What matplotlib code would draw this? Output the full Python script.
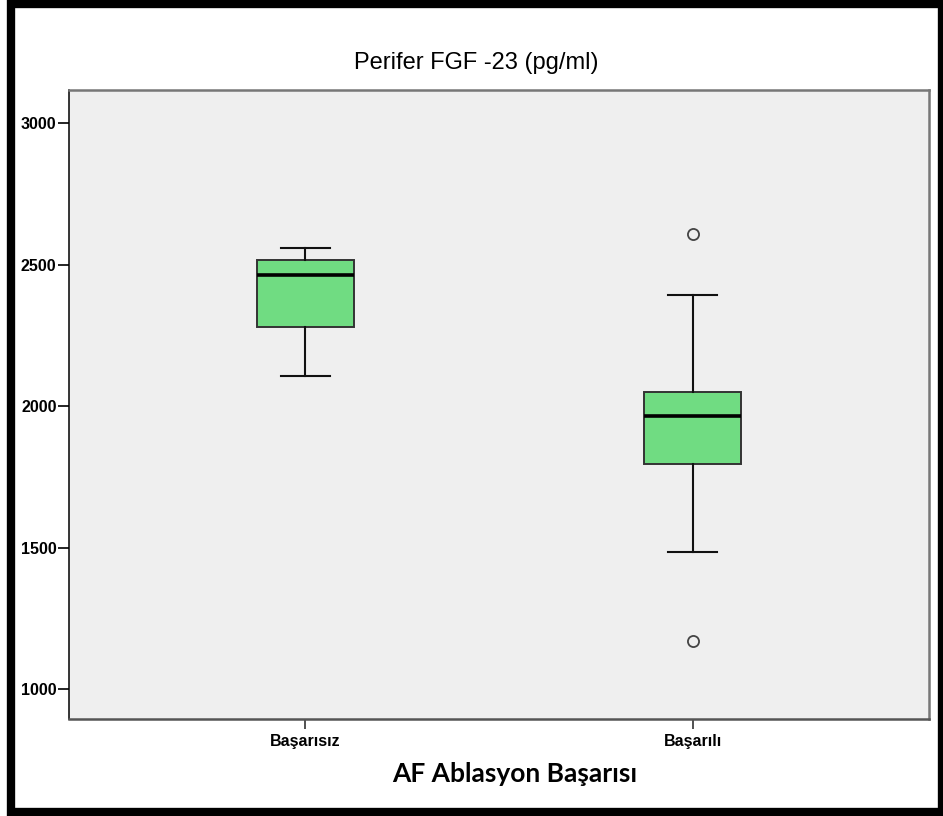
import matplotlib
matplotlib.use("Agg")
import matplotlib.pyplot as plt
from matplotlib.patches import Rectangle

# ---------------------------------------------------------------------------
# Box plot summary values (pg/ml)
# ---------------------------------------------------------------------------
groups = ["Başarısız", "Başarılı"]
whisker_low = [2107, 1483]
q1 = [2278, 1794]
median = [2462, 1966]
q3 = [2516, 2048]
whisker_high = [2557, 2392]
outliers = [[], [2609, 1171]]

y_ticks = [1000, 1500, 2000, 2500, 3000]

title = "Perifer FGF -23 (pg/ml)"
x_label = "AF Ablasyon Başarısı"

BOX_GREEN = "#70dc82"
PANEL_GRAY = "#efefef"
TICK_FONT = ["Liberation Sans", "DejaVu Sans"]

stats = []
for i, name in enumerate(groups):
    stats.append({
        "label": name,
        "whislo": whisker_low[i],
        "q1": q1[i],
        "med": median[i],
        "q3": q3[i],
        "whishi": whisker_high[i],
        "fliers": outliers[i],
    })

fig = plt.figure(figsize=(9.43, 8.16), dpi=100)
fig.patch.set_facecolor("white")
ax = fig.add_axes([69 / 943, 1 - 719 / 816, 860 / 943, 629 / 816])
ax.set_facecolor(PANEL_GRAY)

ax.bxp(
    stats,
    positions=[1, 2],
    widths=0.25,
    patch_artist=True,
    boxprops=dict(facecolor=BOX_GREEN, edgecolor="#333333", linewidth=1.4),
    medianprops=dict(color="black", linewidth=2.6),
    whiskerprops=dict(color="#111111", linewidth=1.5),
    capprops=dict(color="#111111", linewidth=1.5),
    flierprops=dict(marker="o", markersize=8, markerfacecolor="none",
                    markeredgecolor="#444444", markeredgewidth=1.3),
)

ax.set_xlim(0.389, 2.611)
ax.set_ylim(894, 3117)
ax.set_yticks(y_ticks)
ax.set_yticklabels([str(t) for t in y_ticks])

for lbl in ax.get_xticklabels() + ax.get_yticklabels():
    lbl.set_family(TICK_FONT)
    lbl.set_fontweight("bold")
    lbl.set_fontsize(11.5)

ax.tick_params(axis="y", length=8, width=1.2, pad=1, color="black")
ax.tick_params(axis="x", length=7, width=1.2, pad=4, color="#333333")

ax.spines["left"].set_color("black")
ax.spines["left"].set_linewidth(1.1)
ax.spines["bottom"].set_color("#555555")
ax.spines["bottom"].set_linewidth(1.8)
for side in ["top", "right"]:
    ax.spines[side].set_color("#777777")
    ax.spines[side].set_linewidth(1.8)

fig.text(476 / 943, 1 - 69 / 816, title, ha="center", va="baseline",
         fontsize=17, family=["Liberation Sans", "DejaVu Sans"])
fig.text(515 / 943, 1 - 782 / 816, x_label, ha="center", va="baseline",
         fontsize=19, fontweight="bold", family=["Lato", "DejaVu Sans"])

# thick black frame round the whole picture
fig.patches.append(Rectangle((10.5 / 943, 1 - 811.5 / 816),
                             931 / 943, 808 / 816,
                             transform=fig.transFigure, fill=False,
                             edgecolor="black", linewidth=6.0))

fig.savefig("out.png", dpi=100)
